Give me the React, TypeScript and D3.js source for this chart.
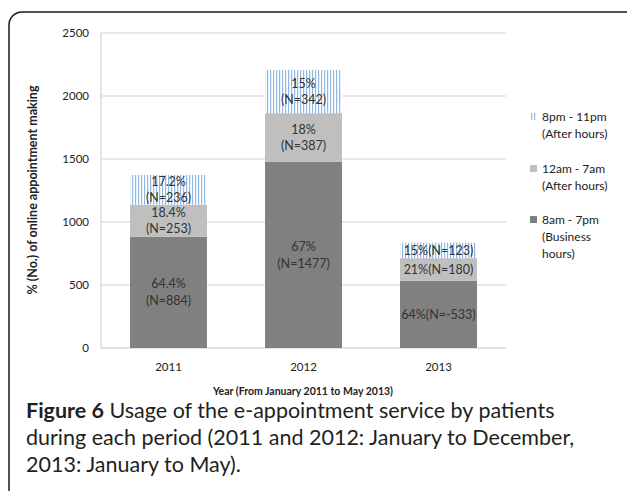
import { useRef, useEffect } from 'react'
import * as d3 from 'd3'

const years = ['2011', '2012', '2013']
const business = [884, 1477, 533]
const night = [253, 387, 180]
const evening = [236, 342, 123]
const businessLabels = [['64.4%', '(N=884)'], ['67%', '(N=1477)'], ['64%(N=-533)']]
const nightLabels = [['18.4%', '(N=253)'], ['18%', '(N=387)'], ['21%(N=180)']]
const eveningLabels = [['17.2%', '(N=236)'], ['15%', '(N=342)'], ['15%(N=123)']]
const yTicks = [0, 500, 1000, 1500, 2000, 2500]
const legendItems = [
  { key: 'evening', lines: ['8pm - 11pm', '(After hours)'] },
  { key: 'night', lines: ['12am - 7am', '(After hours)'] },
  { key: 'business', lines: ['8am - 7pm', '(Business', 'hours)'] },
]

const W = 627
const H = 491
const font = 'Lato, "Open Sans", sans-serif'

const App = () => {
  const ref = useRef(null)

  useEffect(() => {
    const svg = d3.select(ref.current)
    svg.selectAll('*').remove()

    const defs = svg.append('defs')
    const pat = defs.append('pattern')
      .attr('id', 'stripes')
      .attr('patternUnits', 'userSpaceOnUse')
      .attr('width', 3).attr('height', 10)
    pat.append('rect').attr('width', 3).attr('height', 10).attr('fill', '#fff')
    pat.append('rect').attr('x', 0).attr('width', 1.2).attr('height', 10).attr('fill', '#8fb8e3')

    const fills = { business: '#808080', night: '#bfbfbf', evening: 'url(#stripes)' }

    // frame
    svg.append('rect')
      .attr('x', 9).attr('y', 12).attr('width', 680).attr('height', 520)
      .attr('rx', 13).attr('fill', 'none').attr('stroke', '#1a1a1a').attr('stroke-width', 1.5)

    const x = d3.scaleBand().domain(years).range([101, 506]).paddingInner(0.43).paddingOuter(0.215)
    const y = d3.scaleLinear().domain([0, 2500]).range([348, 33])

    const g = svg.append('g')
    g.selectAll('.grid').data(yTicks).join('line')
      .attr('x1', 101).attr('x2', 506)
      .attr('y1', d => y(d)).attr('y2', d => y(d))
      .attr('stroke', d => d === 0 ? '#c8c8c8' : '#d4d4d4').attr('stroke-width', 1.2)
    g.append('line').attr('x1', 101).attr('x2', 101).attr('y1', y(0)).attr('y2', y(2500))
      .attr('stroke', '#d4d4d4').attr('stroke-width', 1.2)

    g.selectAll('.ytick').data(yTicks).join('text')
      .attr('x', 89).attr('y', d => y(d)).attr('dy', '0.35em')
      .attr('text-anchor', 'end').attr('font-family', font).attr('font-size', 11.5).attr('fill', '#222')
      .text(d => d)

    const stackData = years.map((yr, i) => ({ year: yr, business: business[i], night: night[i], evening: evening[i] }))
    const series = d3.stack().keys(['business', 'night', 'evening'])(stackData)
    const labelSets = { business: businessLabels, night: nightLabels, evening: eveningLabels }

    series.forEach(s => {
      g.selectAll('.bar-' + s.key).data(s).join('rect')
        .attr('x', d => x(d.data.year))
        .attr('width', x.bandwidth())
        .attr('y', d => y(d[1]))
        .attr('height', d => y(d[0]) - y(d[1]))
        .attr('fill', fills[s.key])
      s.forEach((d, i) => {
        const lines = labelSets[s.key][i]
        const cy = (y(d[0]) + y(d[1])) / 2
        const t = g.append('text')
          .attr('x', x(d.data.year) + x.bandwidth() / 2)
          .attr('text-anchor', 'middle').attr('font-family', font).attr('font-size', 12.5).attr('fill', '#333')
        lines.forEach((ln, k) => {
          t.append('tspan')
            .attr('x', x(d.data.year) + x.bandwidth() / 2)
            .attr('y', cy + (k - (lines.length - 1) / 2) * 16.5)
            .attr('dy', '0.35em')
            .text(ln)
        })
      })
    })

    g.selectAll('.xtick').data(years).join('text')
      .attr('x', d => x(d) + x.bandwidth() / 2).attr('y', 367).attr('dy', '0.35em')
      .attr('text-anchor', 'middle').attr('font-family', font).attr('font-size', 11.5).attr('fill', '#222')
      .text(d => d)

    svg.append('text')
      .attr('x', 303).attr('y', 391).attr('dy', '0.35em')
      .attr('text-anchor', 'middle').attr('font-family', font).attr('font-weight', 'bold')
      .attr('font-size', 10.5).attr('fill', '#222')
      .text('Year (From January 2011 to May 2013)')

    svg.append('text')
      .attr('transform', 'translate(33,190) rotate(-90)').attr('dy', '0.35em')
      .attr('text-anchor', 'middle').attr('font-family', font).attr('font-weight', 'bold')
      .attr('font-size', 12.5).attr('fill', '#222')
      .text('% (No.) of online appointment making')

    // legend
    const legendTop = [117, 169, 220]
    legendItems.forEach((item, i) => {
      const ly = legendTop[i]
      svg.append('rect').attr('x', 530).attr('y', ly - 4).attr('width', 7).attr('height', 7)
        .attr('fill', fills[item.key])
      item.lines.forEach((ln, k) => {
        svg.append('text')
          .attr('x', 542).attr('y', ly + k * 17).attr('dy', '0.35em')
          .attr('font-family', font).attr('font-size', 12).attr('fill', '#222')
          .text(ln)
      })
    })

    // caption
    const cap = svg.append('g').attr('font-family', font).attr('font-size', 21.5).attr('fill', '#231f20')
    const l1 = cap.append('text').attr('x', 26).attr('y', 418)
    l1.append('tspan').attr('font-weight', 'bold').text('Figure 6')
    l1.append('tspan').text(' Usage of the e-appointment service by patients')
    cap.append('text').attr('x', 26).attr('y', 445).text('during each period (2011 and 2012: January to December,')
    cap.append('text').attr('x', 26).attr('y', 472).text('2013: January to May).')
  }, [])

  return (
    <svg ref={ref} width={W} height={H} style={{ position: 'absolute', left: 0, top: 0, background: '#fff' }} />
  )
}

export default App
